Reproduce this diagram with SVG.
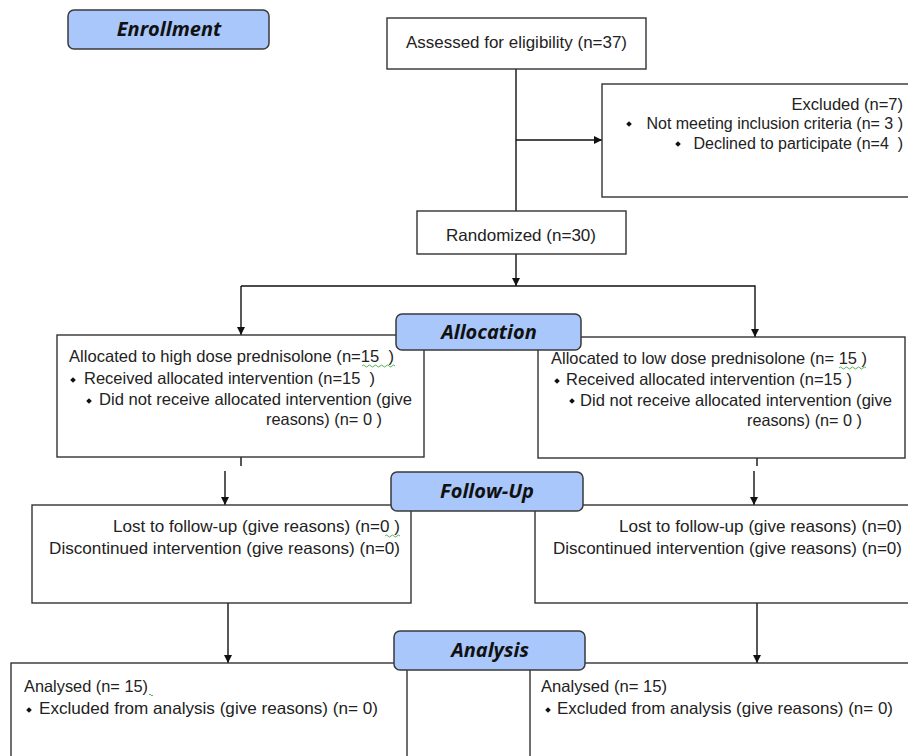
<svg xmlns="http://www.w3.org/2000/svg" width="908" height="756" viewBox="0 0 908 756">
<defs>
<style>
.box{fill:#fff;stroke:#333;stroke-width:1.4}
.lab{fill:#a9c7fa;stroke:#3a3a3a;stroke-width:1.5}
.lt{font-family:"Open Sans","Liberation Sans",sans-serif;font-weight:bold;font-style:italic;font-size:20px;fill:#111;text-anchor:middle}
.t{font-family:"Liberation Sans",Arial,sans-serif;font-size:16.5px;fill:#222;white-space:pre}
.e{text-anchor:end}
.ln{stroke:#111;stroke-width:1.4;fill:none}
.sq{stroke:#4a4;stroke-width:0.9;fill:none}
.b{fill:#111}
</style>
<marker id="ar" viewBox="0 0 10 10" refX="10" refY="5" markerWidth="8" markerHeight="8" orient="auto" markerUnits="userSpaceOnUse">
<path d="M0,0 L10,5 L0,10 z" fill="#111"/>
</marker>
</defs>
<rect width="908" height="756" fill="#fff"/>

<g id="connectors">
<line class="ln" x1="516" y1="69" x2="516" y2="211"/>
<line class="ln" x1="516" y1="140" x2="602" y2="140" marker-end="url(#ar)"/>
<line class="ln" x1="516" y1="254" x2="516" y2="286" marker-end="url(#ar)"/>
<polyline class="ln" points="241,286 755,286 755,337" marker-end="url(#ar)"/>
<line class="ln" x1="241" y1="286" x2="241" y2="335" marker-end="url(#ar)"/>
<line class="ln" x1="241" y1="457" x2="241" y2="466"/>
<line class="ln" x1="757" y1="458" x2="757" y2="466"/>
<line class="ln" x1="225" y1="471" x2="225" y2="505" marker-end="url(#ar)"/>
<line class="ln" x1="754" y1="471" x2="754" y2="505" marker-end="url(#ar)"/>
<line class="ln" x1="228" y1="603" x2="228" y2="663" marker-end="url(#ar)"/>
<line class="ln" x1="757" y1="603" x2="757" y2="663" marker-end="url(#ar)"/>
</g>

<g id="enrollment">
<rect class="lab" x="68" y="10" width="201" height="39" rx="6"/>
<text class="lt" x="169" y="36">Enrollment</text>
</g>

<g id="assessed">
<rect class="box" x="387" y="18" width="259" height="51"/>
<text class="t" x="406" y="48" textLength="221" lengthAdjust="spacingAndGlyphs">Assessed for eligibility (n=37)</text>
</g>

<g id="excluded">
<rect class="box" x="602" y="84" width="310" height="113"/>
<text class="t e" x="903" y="110">Excluded (n=7)</text>
<rect class="b" x="627" y="122" width="4" height="4" transform="rotate(45 629 124)"/>
<text class="t e" x="903" y="129" style="font-size:16px">Not meeting inclusion criteria (n= 3 )</text>
<rect class="b" x="676" y="142" width="4" height="4" transform="rotate(45 678 144)"/>
<text class="t e" x="903" y="149" style="font-size:16px">Declined to participate (n=4  )</text>
</g>

<g id="randomized">
<rect class="box" x="417" y="211" width="209" height="43"/>
<text class="t" x="446" y="241" textLength="150" lengthAdjust="spacingAndGlyphs">Randomized (n=30)</text>
</g>

<g id="alloc-high">
<rect class="box" x="57" y="335" width="367" height="122"/>
<text class="t" x="69" y="362" textLength="325" lengthAdjust="spacingAndGlyphs">Allocated to high dose prednisolone (n=15  )</text>
<path class="sq" d="M362,366 q1.5,-2 3,0 t3,0 t3,0 t3,0 t3,0 t3,0 t3,0 t3,0 t3,0 t3,0 t3,0"/>
<rect class="b" x="71" y="378" width="4" height="4" transform="rotate(45 73 380)"/>
<text class="t" x="84" y="384" textLength="291" lengthAdjust="spacingAndGlyphs">Received allocated intervention (n=15  )</text>
<rect class="b" x="87" y="399" width="4" height="4" transform="rotate(45 89 401)"/>
<text class="t" x="99" y="405" textLength="313" lengthAdjust="spacingAndGlyphs">Did not receive allocated intervention (give</text>
<text class="t e" x="382" y="425" textLength="116" lengthAdjust="spacingAndGlyphs">reasons) (n= 0 )</text>
</g>

<g id="alloc-low">
<rect class="box" x="538" y="337" width="367" height="121"/>
<text class="t" x="551" y="364" textLength="316" lengthAdjust="spacingAndGlyphs">Allocated to low dose prednisolone (n= 15 )</text>
<path class="sq" d="M839,368 q1.5,-2 3,0 t3,0 t3,0 t3,0 t3,0 t3,0 t3,0 t3,0 t3,0"/>
<rect class="b" x="555" y="379" width="4" height="4" transform="rotate(45 557 381)"/>
<text class="t" x="566" y="385" textLength="286" lengthAdjust="spacingAndGlyphs">Received allocated intervention (n=15 )</text>
<rect class="b" x="570" y="399" width="4" height="4" transform="rotate(45 572 401)"/>
<text class="t" x="580" y="406" textLength="312" lengthAdjust="spacingAndGlyphs">Did not receive allocated intervention (give</text>
<text class="t e" x="862" y="426" textLength="115" lengthAdjust="spacingAndGlyphs">reasons) (n= 0 )</text>
</g>

<g id="allocation">
<rect class="lab" x="396" y="314" width="185" height="36" rx="6"/>
<text class="lt" x="489" y="339">Allocation</text>
</g>

<g id="follow-high">
<rect class="box" x="32" y="505" width="379" height="98"/>
<text class="t e" x="400" y="532" textLength="287" lengthAdjust="spacingAndGlyphs">Lost to follow-up (give reasons) (n=0 )</text>
<path class="sq" d="M385,536 q1.5,-2 3,0 t3,0 t3,0 t3,0 t3,0"/>
<text class="t e" x="400" y="554" textLength="351" lengthAdjust="spacingAndGlyphs">Discontinued intervention (give reasons) (n=0)</text>
</g>

<g id="follow-low">
<rect class="box" x="535" y="505" width="377" height="98"/>
<text class="t e" x="902" y="532" textLength="283" lengthAdjust="spacingAndGlyphs">Lost to follow-up (give reasons) (n=0)</text>
<text class="t e" x="902" y="554" textLength="349" lengthAdjust="spacingAndGlyphs">Discontinued intervention (give reasons) (n=0)</text>
</g>

<g id="follow-up">
<rect class="lab" x="391" y="472" width="192" height="39" rx="6"/>
<text class="lt" x="487" y="498">Follow-Up</text>
</g>

<g id="analysis-high">
<rect class="box" x="11" y="663" width="396" height="100"/>
<text class="t" x="24" y="692" textLength="124" lengthAdjust="spacingAndGlyphs">Analysed (n= 15)</text>
<path class="sq" d="M149,695 q1,-2 2,0 t2,0"/>
<rect class="b" x="27" y="708" width="4" height="4" transform="rotate(45 29 710)"/>
<text class="t" x="39" y="714" textLength="339" lengthAdjust="spacingAndGlyphs">Excluded from analysis (give reasons) (n= 0)</text>
</g>

<g id="analysis-low">
<rect class="box" x="530" y="663" width="382" height="100"/>
<text class="t" x="541" y="692" textLength="126" lengthAdjust="spacingAndGlyphs">Analysed (n= 15)</text>
<rect class="b" x="546" y="708" width="4" height="4" transform="rotate(45 548 710)"/>
<text class="t" x="557" y="714" textLength="336" lengthAdjust="spacingAndGlyphs">Excluded from analysis (give reasons) (n= 0)</text>
</g>

<g id="analysis">
<rect class="lab" x="394" y="631" width="191" height="39" rx="6"/>
<text class="lt" x="490" y="657">Analysis</text>
</g>
</svg>
